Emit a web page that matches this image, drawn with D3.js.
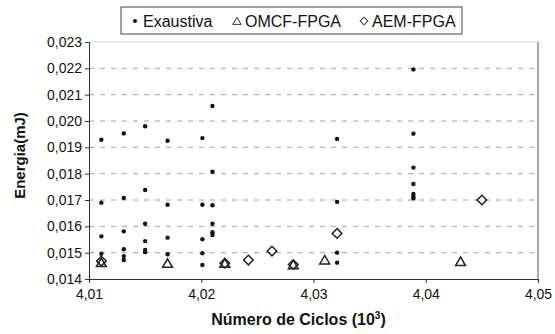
<!DOCTYPE html>
<html>
<head>
<meta charset="utf-8">
<script src="https://cdn.jsdelivr.net/npm/d3@7"></script>
<style>
  body { margin: 0; background: #fff; }
  svg { font-family: "Liberation Sans", Arial, sans-serif; }
</style>
</head>
<body>
<div id="chart"></div>
<script>
// values: [ciclos (10^3), energia mJ]
const exaustiva = [
  [4.0111, 0.01929], [4.0111, 0.01690], [4.0111, 0.01562], [4.0111, 0.01496],
  [4.0131, 0.01953], [4.0131, 0.01708], [4.0131, 0.01581], [4.0131, 0.01513], [4.0131, 0.01487], [4.0131, 0.01472],
  [4.0150, 0.01980], [4.0150, 0.01738], [4.0150, 0.01610], [4.0150, 0.01544], [4.0150, 0.01510], [4.0150, 0.01502],
  [4.0170, 0.01925], [4.0170, 0.01682], [4.0170, 0.01557], [4.0170, 0.01494],
  [4.0201, 0.01935], [4.0201, 0.01682], [4.0201, 0.01551], [4.0201, 0.01498], [4.0201, 0.01453],
  [4.0210, 0.02057], [4.0210, 0.01807], [4.0210, 0.01680], [4.0210, 0.01610], [4.0210, 0.01578], [4.0210, 0.01567],
  [4.0321, 0.01932], [4.0321, 0.01693], [4.0321, 0.01500], [4.0321, 0.01462],
  [4.0389, 0.02196], [4.0389, 0.01952], [4.0389, 0.01823], [4.0389, 0.01761], [4.0389, 0.01723], [4.0389, 0.01713], [4.0389, 0.01706]
];
const omcf = [
  [4.0111, 0.01458], [4.0170, 0.01455], [4.0221, 0.01455], [4.0282, 0.01450], [4.0310, 0.01468], [4.0431, 0.01462]
];
const aem = [
  [4.0111, 0.01468], [4.0221, 0.01460], [4.0242, 0.01472], [4.0263, 0.01506], [4.0282, 0.01455], [4.0321, 0.01573], [4.0450, 0.01700]
];
const xTicks = [4.01, 4.02, 4.03, 4.04, 4.05];
const yTicks = [0.014, 0.015, 0.016, 0.017, 0.018, 0.019, 0.020, 0.021, 0.022, 0.023];
const legendNames = ["Exaustiva", "OMCF-FPGA", "AEM-FPGA"];

const width = 555, height = 334;
const margin = { top: 42, right: 17, bottom: 55, left: 89 };
const innerW = width - margin.left - margin.right;
const innerH = height - margin.top - margin.bottom;
const comma = d3.formatLocale({ decimal: ",", thousands: ".", grouping: [3], currency: ["", ""] });

const svg = d3.select("#chart").append("svg")
  .attr("width", width)
  .attr("height", height);

const x = d3.scaleLinear().domain([4.01, 4.05]).range([0, innerW]);
const y = d3.scaleLinear().domain([0.014, 0.023]).range([innerH, 0]);

const g = svg.append("g").attr("transform", `translate(${margin.left},${margin.top})`);

// gridlines
g.selectAll(".grid")
  .data(yTicks.slice(1, -1))
  .join("line")
  .attr("class", "grid")
  .attr("x1", 0).attr("x2", innerW)
  .attr("y1", d => y(d)).attr("y2", d => y(d))
  .attr("stroke", "#a0a0a0")
  .attr("stroke-dasharray", "5,6");

// plot border top/right
g.append("line").attr("x1", 0).attr("x2", innerW).attr("y1", 0).attr("y2", 0)
  .attr("stroke", "#cfcfcf");
g.append("line").attr("x1", innerW).attr("x2", innerW).attr("y1", 0).attr("y2", innerH)
  .attr("stroke", "#555");

// axes
const xAxis = d3.axisBottom(x).tickValues(xTicks).tickFormat(comma.format(".2f")).tickSize(4).tickPadding(6);
const yAxis = d3.axisLeft(y).tickValues(yTicks).tickFormat(comma.format(".3f")).tickSize(4).tickPadding(3);

g.append("g").attr("transform", `translate(0,${innerH})`).call(xAxis)
  .call(s => s.selectAll("text").attr("font-size", 14).attr("fill", "#111"));
g.append("g").call(yAxis)
  .call(s => s.selectAll("text").attr("font-size", 14).attr("fill", "#111"));
g.selectAll(".domain, .tick line").attr("stroke", "#333");

// marks
g.selectAll(".dot")
  .data(exaustiva)
  .join("circle")
  .attr("class", "dot")
  .attr("cx", d => x(d[0]))
  .attr("cy", d => y(d[1]))
  .attr("r", 2.2)
  .attr("fill", "#111");

const tri = d3.symbol().type(d3.symbolTriangle).size(42);
const dia = d3.symbol().type(d3.symbolSquare).size(46);

g.selectAll(".tri")
  .data(omcf)
  .join("path")
  .attr("class", "tri")
  .attr("d", tri)
  .attr("transform", d => `translate(${x(d[0])},${y(d[1])})`)
  .attr("fill", "none")
  .attr("stroke", "#222")
  .attr("stroke-width", 1.5);

g.selectAll(".dia")
  .data(aem)
  .join("path")
  .attr("class", "dia")
  .attr("d", dia)
  .attr("transform", d => `translate(${x(d[0])},${y(d[1])}) rotate(45)`)
  .attr("fill", "none")
  .attr("stroke", "#222")
  .attr("stroke-width", 1.5);

// axis titles
svg.append("text")
  .attr("x", margin.left + innerW / 2 - 15)
  .attr("y", 325)
  .attr("text-anchor", "middle")
  .attr("font-size", 16)
  .attr("font-weight", "bold")
  .attr("fill", "#111")
  .html("Número de Ciclos (10<tspan dy='-6' font-size='10'>3</tspan><tspan dy='6'>)</tspan>");

svg.append("text")
  .attr("transform", `translate(25,${margin.top + innerH / 2 - 5}) rotate(-90)`)
  .attr("text-anchor", "middle")
  .attr("font-size", 15)
  .attr("font-weight", "bold")
  .attr("fill", "#111")
  .text("Energia(mJ)");

// legend
const legend = svg.append("g").attr("transform", "translate(121,7)");
legend.append("rect")
  .attr("width", 341).attr("height", 27)
  .attr("fill", "#fff").attr("stroke", "#444");
const itemX = [14, 116, 243];
legend.append("circle").attr("cx", itemX[0]).attr("cy", 14).attr("r", 2).attr("fill", "#111");
legend.append("path").attr("d", d3.symbol().type(d3.symbolTriangle).size(30)).attr("transform", `translate(${itemX[1]},15)`)
  .attr("fill", "none").attr("stroke", "#333").attr("stroke-width", 1);
legend.append("path").attr("d", d3.symbol().type(d3.symbolSquare).size(30)).attr("transform", `translate(${itemX[2]},14) rotate(45)`)
  .attr("fill", "none").attr("stroke", "#333").attr("stroke-width", 1);
legend.selectAll(".lt")
  .data(legendNames)
  .join("text")
  .attr("class", "lt")
  .attr("x", (d, i) => itemX[i] + 8)
  .attr("y", 20)
  .attr("font-size", 16)
  .attr("fill", "#111")
  .text(d => d);
</script>
</body>
</html>
